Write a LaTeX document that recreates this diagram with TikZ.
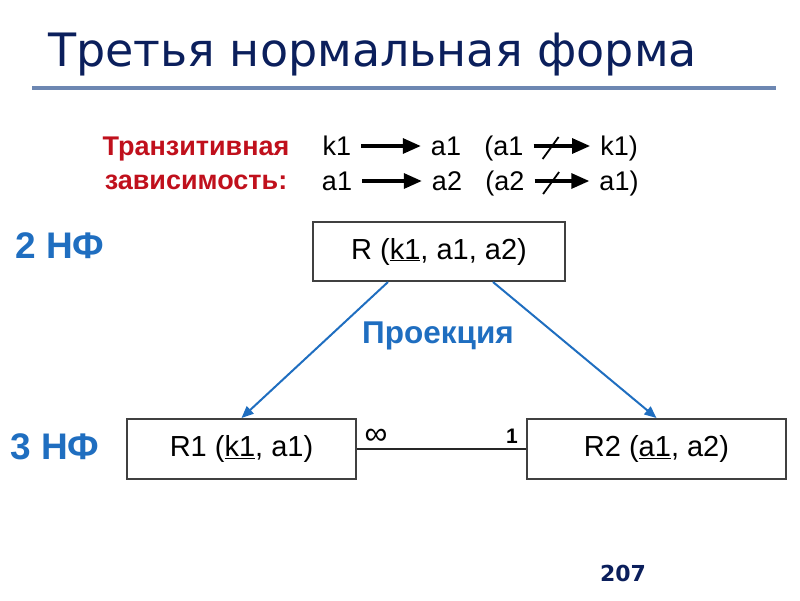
\documentclass[tikz,border=0pt]{standalone}
\usepackage{fontspec}
\setmainfont{Liberation Sans}
\newfontfamily\titlefont{DejaVu Sans}
\usetikzlibrary{positioning,calc,arrows.meta}
\definecolor{titleblue}{HTML}{0B1F5C}
\definecolor{rulecolor}{HTML}{6D87B2}
\definecolor{darkred}{HTML}{C0101C}
\definecolor{projblue}{HTML}{1F6EC0}
\definecolor{boxgray}{HTML}{404040}
\newcommand{\fs}[1]{\fontsize{#1}{#1}\selectfont}
\tikzstyle{relbox}=[rectangle,draw=boxgray,line width=2pt,inner sep=0pt,font=\fs{29}]
\tikzstyle{dep}=[inner xsep=10pt,inner ysep=0pt,text height=20pt,text depth=2pt,font=\fs{27}]
\tikzstyle{deparrow}=[draw,line width=3.2pt,-{Triangle[length=18pt,width=15pt]}]
\tikzstyle{projarrow}=[draw,projblue,line width=2pt,-{Triangle[length=12pt,width=10pt]}]
\tikzstyle{nflabel}=[projblue,font=\bfseries\fs{37}]
\begin{document}
\begin{tikzpicture}[x=1pt,y=-1pt]
\useasboundingbox (0,0) rectangle (800,600);

 %title
 \node[anchor=base west,inner sep=0pt,titleblue,font=\titlefont\fs{46}] (title) at (48,66) {Третья нормальная форма};
 \draw[rulecolor,line width=4pt] (32,88) -- (776,88);

 %transitive dependency
 \node[darkred,font=\bfseries\fontsize{27}{34}\selectfont,align=center,inner sep=0pt] (trans) at (196,163) {Транзитивная\\зависимость:};

 \foreach \x/\y/\name/\label in {337/146/ka/k1, 446/146/aa/a1, 504/146/pa/{(a1}, 619/146/pk/{k1)},
                                 337/181/ab/a1, 447/181/ac/a2, 505/181/pb/{(a2}, 619/181/pc/{a1)}}
   \node[dep] (\name) at (\x,\y) {\label};

 \foreach \source/\dest in {ka/aa, ab/ac}
   \path[deparrow] (\source) -- (\dest);

 \foreach \source/\dest/\cross in {pa/pk/xa, pb/pc/xb}
   \path[deparrow] (\source) -- coordinate[pos=0.3] (\cross) (\dest);

 \foreach \cross in {xa, xb}
   \draw[line width=1.8pt] ($(\cross)+(-8,13)$) -- ($(\cross)+(8,-9)$);

 %relations
 \node[relbox,minimum width=252pt,minimum height=59pt] (r) at (439,251.5) {R (\underline{k1}, a1, a2)};
 \node[relbox,minimum width=229pt,minimum height=60pt] (r1) at (241.5,449) {R1 (\underline{k1}, a1)};
 \node[relbox,minimum width=259pt,minimum height=60pt] (r2) at (656.5,449) {R2 (\underline{a1}, a2)};

 \path[projarrow] ($(r.south)+(-51,0)$) -- (r1.north);
 \path[projarrow] ($(r.south)+(54,0)$) -- (r2.north);
 \node[projblue,font=\bfseries\fs{31.5}] (proj) at (438,336) {Проекция};

 \draw[draw=black!85,line width=2.8pt] (r1) -- (r2);
 \node[font=\fs{32}] (many) at (376,437) {∞};
 \node[font=\bfseries\fs{21}] (one) at (512,436) {1};

 %normal forms
 \node[nflabel] (nf2) at (60,246) {2 НФ};
 \node[nflabel] (nf3) at (55,447) {3 НФ};

 \node[titleblue,font=\titlefont\bfseries\fs{22}] (page) at (623,573) {207};

\end{tikzpicture}
\end{document}
